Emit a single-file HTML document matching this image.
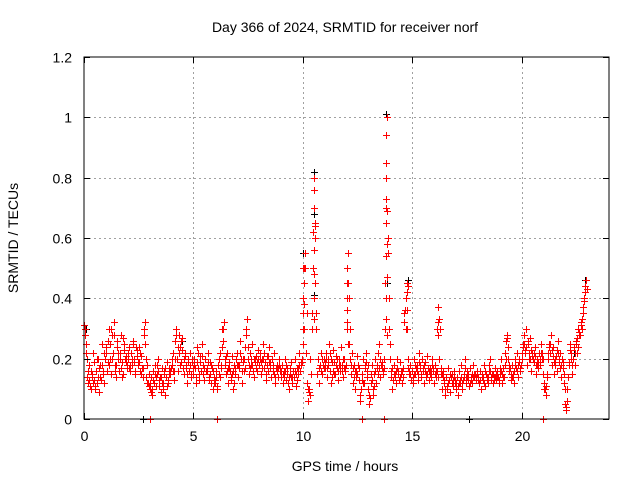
<!DOCTYPE html>
<html><head><meta charset="utf-8">
<style>
html,body{margin:0;padding:0;background:#fff;}
svg{display:block;font-family:"Liberation Sans",sans-serif;}
</style></head>
<body>
<svg id="chart" width="640" height="480" viewBox="0 0 640 480">
<text x="345" y="32" text-anchor="middle" font-size="14">Day 366 of 2024, SRMTID for receiver norf</text>
<text x="345" y="471" text-anchor="middle" font-size="14">GPS time / hours</text>
<text transform="translate(18,238) rotate(-90)" text-anchor="middle" font-size="14">SRMTID / TECUs</text>
<g id="grid"></g>
<g id="marks"></g>
<rect x="84" y="57" width="525" height="362" fill="none" stroke="#000" stroke-width="1"/>
<g id="ticks"></g>
</svg>
<script>
const xTicks=[0,5,10,15,20];
const yTicks=[0,0.2,0.4,0.6,0.8,1,1.2];
const yTickLabels=["0","0.2","0.4","0.6","0.8","1","1.2"];
const startHour=0;
const stepHour=0.05;
const redValues=[
0.31,0.28,0.22,0.14,0.12,0.18,0.1,0.15,0.22,0.13,0.11,0.16,0.2,0.14,0.09,0.18,0.25,0.15,0.12,0.2,
0.22,0.16,0.26,0.3,0.2,0.15,0.28,0.32,0.18,0.14,0.24,0.2,0.16,0.22,0.28,0.19,0.15,0.25,0.21,0.17,
0.2,0.24,0.16,0.22,0.18,0.26,0.2,0.15,0.23,0.19,0.24,0.16,0.21,0.17,0.14,0.28,0.32,0.2,0.12,0.15,
0.1,0.14,0.08,0.16,0.12,0.18,0.11,0.15,0.2,0.13,0.09,0.17,0.12,0.16,0.08,0.14,0.19,0.12,0.17,0.15,
0.18,0.22,0.13,0.26,0.3,0.2,0.16,0.28,0.24,0.19,0.27,0.15,0.22,0.18,0.12,0.2,0.16,0.22,0.14,0.19,
0.15,0.2,0.12,0.24,0.17,0.13,0.21,0.16,0.25,0.18,0.13,0.2,0.16,0.22,0.14,0.19,0.12,0.17,0.1,0.14,
0.12,0.16,0.1,0.2,0.14,0.18,0.24,0.3,0.32,0.2,0.15,0.22,0.12,0.17,0.14,0.21,0.1,0.18,0.15,0.2,
0.22,0.14,0.18,0.26,0.12,0.2,0.16,0.24,0.3,0.33,0.2,0.15,0.22,0.18,0.25,0.14,0.19,0.21,0.16,0.23,
0.18,0.22,0.15,0.2,0.25,0.17,0.13,0.21,0.16,0.24,0.19,0.14,0.2,0.16,0.22,0.12,0.18,0.14,0.2,0.16,
0.14,0.18,0.12,0.16,0.2,0.13,0.17,0.1,0.15,0.19,0.12,0.16,0.14,0.2,0.11,0.17,0.15,0.22,0.18,0.2,
0.3,0.45,0.55,0.22,0.12,0.06,0.1,0.2,0.35,0.62,0.8,0.6,0.3,0.15,0.2,0.12,0.18,0.22,0.15,0.2,
0.17,0.22,0.14,0.2,0.25,0.16,0.12,0.19,0.23,0.15,0.21,0.17,0.13,0.2,0.16,0.24,0.18,0.14,0.2,0.17,
0.3,0.55,0.4,0.2,0.15,0.22,0.12,0.18,0.1,0.16,0.21,0.13,0.06,0.1,0.15,0.2,0.12,0.17,0.22,0.14,
0.1,0.05,0.12,0.18,0.08,0.15,0.2,0.12,0.17,0.22,0.25,0.14,0.19,0.15,0.2,0.45,0.8,1.0,0.6,0.3,
0.2,0.14,0.1,0.18,0.15,0.12,0.2,0.16,0.13,0.19,0.15,0.12,0.17,0.35,0.3,0.45,0.2,0.15,0.18,0.13,
0.16,0.12,0.2,0.15,0.18,0.13,0.22,0.17,0.14,0.2,0.16,0.12,0.19,0.15,0.21,0.13,0.17,0.14,0.2,0.16,
0.12,0.18,0.14,0.3,0.37,0.2,0.15,0.1,0.16,0.12,0.08,0.14,0.1,0.17,0.13,0.09,0.15,0.11,0.16,0.12,
0.1,0.14,0.08,0.16,0.12,0.18,0.1,0.15,0.2,0.12,0.16,0.13,0.11,0.17,0.14,0.12,0.18,0.15,0.13,0.16,
0.14,0.12,0.16,0.1,0.15,0.13,0.18,0.11,0.14,0.12,0.16,0.2,0.13,0.15,0.12,0.14,0.17,0.13,0.16,0.12,
0.15,0.2,0.12,0.17,0.14,0.22,0.26,0.28,0.2,0.16,0.13,0.18,0.15,0.12,0.2,0.17,0.22,0.14,0.19,0.16,
0.2,0.25,0.28,0.22,0.3,0.18,0.25,0.2,0.27,0.16,0.22,0.19,0.24,0.15,0.2,0.17,0.22,0.18,0.25,0.2,
0.15,0.1,0.08,0.14,0.2,0.25,0.22,0.28,0.18,0.24,0.15,0.2,0.16,0.26,0.19,0.22,0.14,0.2,0.17,0.12,
0.05,0.03,0.1,0.18,0.25,0.22,0.15,0.2,0.24,0.18,0.26,0.27,0.3,0.28,0.32,0.3,0.35,0.4,0.42,0.46
];
const startB=0.025, startC=0.075, stepBC=0.1;
const redValuesB=[
0.3,0.2,0.13,0.16,0.12,0.1,0.2,0.14,0.18,0.22,
0.24,0.18,0.3,0.22,0.16,0.26,0.2,0.14,0.23,0.19,
0.22,0.18,0.25,0.16,0.21,0.19,0.15,0.3,0.14,0.12,
0.12,0.1,0.15,0.18,0.11,0.14,0.1,0.17,0.13,0.16,
0.2,0.16,0.28,0.22,0.26,0.17,0.21,0.15,0.18,0.2,
0.18,0.14,0.22,0.19,0.15,0.2,0.17,0.13,0.18,0.12,
0.14,0.18,0.22,0.3,0.18,0.16,0.19,0.13,0.16,0.17,
0.18,0.22,0.16,0.2,0.28,0.18,0.2,0.16,0.2,0.19,
0.2,0.17,0.22,0.15,0.21,0.17,0.18,0.14,0.16,0.18,
0.16,0.14,0.18,0.12,0.17,0.14,0.16,0.13,0.18,0.19,
0.25,0.5,0.1,0.08,0.3,0.7,0.35,0.17,0.16,0.18,
0.19,0.17,0.22,0.14,0.19,0.18,0.16,0.18,0.2,0.16,
0.4,0.25,0.18,0.14,0.14,0.18,0.08,0.13,0.18,0.16,
0.08,0.15,0.1,0.16,0.15,0.2,0.17,0.17,0.7,0.4,
0.16,0.13,0.14,0.17,0.14,0.16,0.32,0.4,0.17,0.15,
0.14,0.18,0.16,0.19,0.15,0.18,0.14,0.17,0.15,0.18,
0.15,0.16,0.33,0.17,0.14,0.1,0.12,0.15,0.12,0.14,
0.12,0.12,0.14,0.13,0.17,0.14,0.12,0.15,0.14,0.14,
0.13,0.13,0.14,0.16,0.13,0.18,0.14,0.13,0.15,0.14,
0.17,0.15,0.18,0.27,0.18,0.15,0.14,0.18,0.18,0.17,
0.22,0.25,0.24,0.22,0.23,0.2,0.21,0.18,0.2,0.22,
0.12,0.11,0.22,0.25,0.21,0.18,0.23,0.2,0.18,0.15,
0.04,0.14,0.23,0.18,0.22,0.22,0.29,0.31,0.37,0.44
];
const redValuesC=[
0.25,0.16,0.11,0.14,0.19,0.12,0.17,0.13,0.16,0.2,
0.19,0.25,0.2,0.28,0.18,0.22,0.17,0.27,0.2,0.18,
0.17,0.2,0.19,0.24,0.18,0.22,0.17,0.25,0.18,0.11,
0.09,0.13,0.14,0.16,0.14,0.12,0.15,0.11,0.15,0.17,
0.16,0.2,0.24,0.18,0.23,0.2,0.17,0.19,0.15,0.17,
0.17,0.19,0.15,0.21,0.17,0.16,0.19,0.15,0.16,0.13,
0.11,0.15,0.17,0.26,0.21,0.17,0.16,0.15,0.12,0.18,
0.17,0.2,0.19,0.17,0.24,0.17,0.18,0.2,0.17,0.2,
0.19,0.2,0.19,0.18,0.19,0.2,0.15,0.17,0.17,0.17,
0.15,0.16,0.15,0.14,0.14,0.16,0.15,0.17,0.16,0.19,
0.38,0.35,0.09,0.15,0.5,0.65,0.2,0.18,0.2,0.17,
0.2,0.18,0.2,0.16,0.15,0.2,0.18,0.16,0.17,0.18,
0.45,0.3,0.17,0.16,0.15,0.17,0.1,0.12,0.19,0.18,
0.07,0.13,0.11,0.18,0.17,0.18,0.16,0.3,0.55,0.25,
0.17,0.15,0.16,0.15,0.16,0.14,0.36,0.3,0.16,0.16,
0.15,0.17,0.15,0.18,0.17,0.16,0.15,0.16,0.16,0.17,
0.16,0.14,0.3,0.15,0.13,0.11,0.13,0.14,0.13,0.13,
0.11,0.13,0.12,0.14,0.14,0.15,0.13,0.14,0.15,0.15,
0.12,0.14,0.12,0.15,0.14,0.16,0.15,0.14,0.14,0.13,
0.16,0.14,0.2,0.24,0.17,0.14,0.16,0.16,0.2,0.18,
0.24,0.23,0.26,0.2,0.21,0.22,0.18,0.19,0.22,0.2,
0.1,0.15,0.24,0.23,0.19,0.21,0.22,0.17,0.19,0.1,
0.06,0.19,0.2,0.2,0.25,0.24,0.28,0.33,0.39,0.43
];
const spikeTimes=[10.0,10.0,10.0,10.0,10.05,10.05,10.5,10.5,10.5,10.5,10.5,10.5,10.55,10.55,12.0,12.0,12.0,12.0,12.05,13.8,13.8,13.8,13.8,13.8,13.8,13.8,13.85,13.85,13.85,13.85,14.75,14.75,14.8,16.2,16.2];
const spikeValues=[0.5,0.4,0.35,0.25,0.5,0.3,0.76,0.7,0.56,0.48,0.4,0.33,0.64,0.45,0.5,0.45,0.36,0.32,0.25,0.94,0.85,0.73,0.65,0.54,0.4,0.33,0.69,0.58,0.47,0.28,0.42,0.36,0.44,0.32,0.28];
const zeroTimes=[3.0,6.1,12.7,13.7,21.0];
const zeroValues=[0,0,0,0,0];
const blackTimes=[10.5,10.5,13.8,10.0,14.8,22.9,10.5,22.5,22.4,2.7,17.6,13.85,4.5,0.1];
const blackValues=[0.82,0.68,1.01,0.55,0.46,0.46,0.41,0.25,0.22,0,0,0.45,0.26,0.3];

const X0=84,X1=609,Y0=419,Y1=57;
function xs(h){return X0+(h-0)/24*(X1-X0);}
function ys(v){return Y0-(v-0)/1.2*(Y0-Y1);}
const NS="http://www.w3.org/2000/svg";
const grid=document.getElementById('grid'),ticks=document.getElementById('ticks'),marks=document.getElementById('marks');
function line(p,x1,y1,x2,y2,st,dash){const l=document.createElementNS(NS,'line');l.setAttribute('x1',x1);l.setAttribute('y1',y1);l.setAttribute('x2',x2);l.setAttribute('y2',y2);l.setAttribute('stroke',st);if(dash)l.setAttribute('stroke-dasharray',dash);p.appendChild(l);return l;}
function txt(p,x,y,s,anchor){const t=document.createElementNS(NS,'text');t.setAttribute('x',x);t.setAttribute('y',y);t.setAttribute('font-size','14');t.setAttribute('text-anchor',anchor);t.textContent=s;p.appendChild(t);return t;}
xTicks.forEach(v=>{const x=Math.round(xs(v))+0.5;
 if(v>0){const g=line(grid,x,Y1,x,Y0,'#a0a0a0','2,3');
 
 }
 line(ticks,x,Y0,x,Y0-6,'#000');line(ticks,x,Y1,x,Y1+6,'#000');
 const t=txt(ticks,x,441,String(v),'middle');
 
 });
yTicks.forEach((v,i)=>{const y=Math.round(ys(v))+0.5;
 if(v>0&&v<1.2){const g=line(grid,X0,y,X1,y,'#a0a0a0','2,3');
 
 }
 line(ticks,X0,y,X0+6,y,'#000');line(ticks,X1,y,X1-6,y,'#000');
 const t=txt(ticks,72,y+5,yTickLabels[i],'end');
 
 });
function plus(h,v,col,name){const x=Math.round(xs(h))+0.5,y=Math.round(ys(v))+0.5;
 const p=document.createElementNS(NS,'path');p.setAttribute('d',`M${x-3.5} ${y}H${x+3.5}M${x} ${y-3.5}V${y+3.5}`);p.setAttribute('stroke',col);p.setAttribute('stroke-width','1');
 
 
 marks.appendChild(p);}
blackTimes.forEach((h,i)=>plus(h,blackValues[i],'#000','black-point'));
redValues.forEach((v,i)=>plus(startHour+i*stepHour,v,'#ff0000','red-point'));
redValuesB.forEach((v,i)=>plus(startB+i*stepBC,v,'#ff0000','red-point-b'));
redValuesC.forEach((v,i)=>plus(startC+i*stepBC,v,'#ff0000','red-point-c'));
spikeTimes.forEach((h,i)=>plus(h,spikeValues[i],'#ff0000','red-spike-point'));
zeroTimes.forEach((h,i)=>plus(h,zeroValues[i],'#ff0000','red-zero-point'));
</script>
</body></html>
